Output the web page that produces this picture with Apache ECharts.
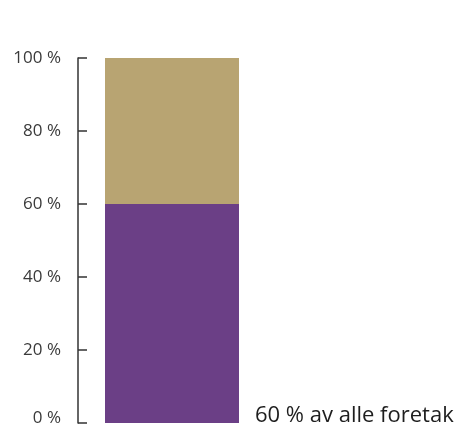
<!DOCTYPE html>
<html>
<head>
<meta charset="utf-8">
<script src="https://cdn.jsdelivr.net/npm/echarts@6/dist/echarts.min.js"></script>
<style>
  html, body { margin: 0; padding: 0; background: #fff; }
  #chart { width: 458px; height: 427px; }
</style>
</head>
<body>
<div id="chart"></div>
<script>
// data
var categories = ['Foretak']
var shareValues = [60]
var restValues = [40]
var shareLabel = '60 % av alle foretak'

var chart = echarts.init(document.getElementById('chart'), null, { renderer: 'canvas' })

var tickFont = {
  fontFamily: 'Open Sans',
  fontSize: 17,
  color: '#3a3a3a'
}

chart.setOption({
  backgroundColor: '#fff',
  animation: false,
  grid: {
    left: 78,
    top: 58,
    width: 188,
    bottom: 4,
    containLabel: false,
    outerBoundsMode: 'none'
  },
  xAxis: {
    type: 'category',
    data: categories,
    show: false
  },
  yAxis: {
    type: 'value',
    min: 0,
    max: 100,
    interval: 20,
    axisLine: {
      show: true,
      lineStyle: { color: '#333', width: 1.5 }
    },
    axisTick: {
      show: true,
      inside: true,
      length: 9,
      lineStyle: { color: '#333', width: 1.5 }
    },
    axisLabel: {
      margin: 17,
      formatter: function(v) {
        // the 0 label sits above its tick in the original
        return v === 0 ? '{z|0 %}' : v + ' %'
      },
      fontFamily: tickFont.fontFamily,
      fontSize: tickFont.fontSize,
      color: tickFont.color,
      rich: {
        z: {
          fontFamily: tickFont.fontFamily,
          fontSize: tickFont.fontSize,
          color: tickFont.color,
          padding: [0, 0, 10, 0]
        }
      }
    },
    splitLine: { show: false }
  },
  series: [
    {
      type: 'bar',
      stack: 'total',
      barWidth: 134,
      data: shareValues,
      itemStyle: { color: '#6b3f86' },
      label: {
        show: true,
        position: ['100%', '100%'],
        offset: [16, 4],
        align: 'left',
        verticalAlign: 'bottom',
        formatter: shareLabel,
        fontFamily: 'Open Sans',
        fontSize: 22,
        color: '#1e1e1e'
      }
    },
    {
      type: 'bar',
      stack: 'total',
      barWidth: 134,
      data: restValues,
      itemStyle: { color: '#b8a472' }
    }
  ]
})
</script>
</body>
</html>
